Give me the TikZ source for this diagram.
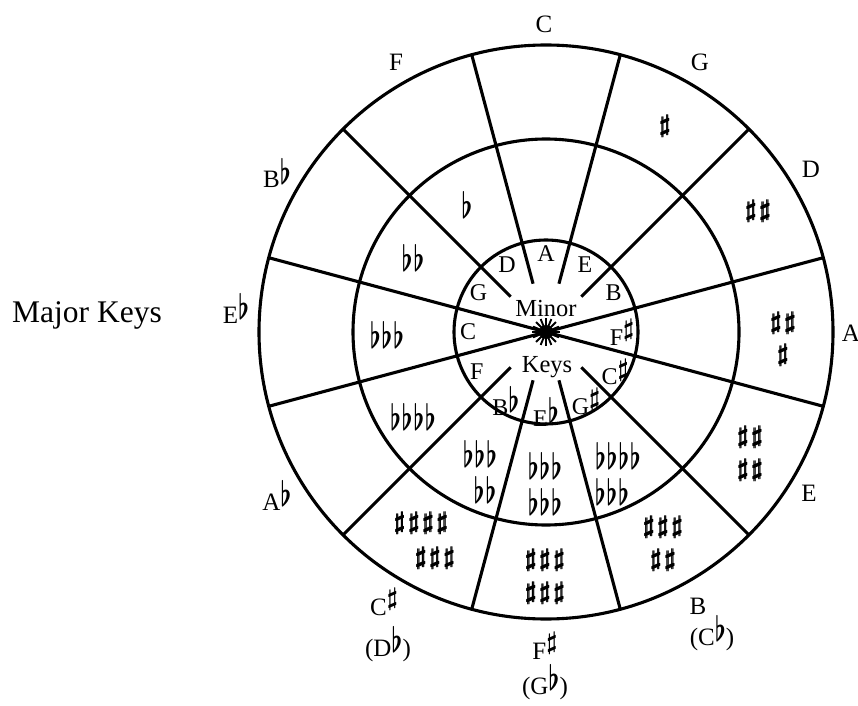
\documentclass[tikz,border=0pt]{standalone}
\usepackage{fontspec}
\usepackage{graphicx}
\setmainfont{Liberation Serif}
\usetikzlibrary{calc}

% heavy sharp: the bold glyph set twice, a hair apart
\newcommand\heavysharp{\rlap{\boldmath$\sharp$}\kern1.1pt{\boldmath$\sharp$}}
% accidentals stacked in the rings
\newcommand\Sh{\heavysharp\hspace{2pt}}
\newcommand\Fl{\scalebox{1}[1.45]{\boldmath$\flat$}\hspace{0.5pt}}
% raised accidentals after a key name
\newcommand\sh{\raisebox{0.8ex}{\boldmath$\sharp$}}
\newcommand\fl{\raisebox{0.3ex}{\scalebox{1}[1.4]{\boldmath$\flat$}}}

\begin{document}
\begin{tikzpicture}[x=1pt,y=1pt,
  ring/.style={line width=3.1pt},
  spoke/.style={line width=3.1pt},
  majorlbl/.style={font=\fontsize{25}{30}\selectfont, inner sep=0pt, anchor=base},
  minorlbl/.style={font=\fontsize{24}{28}\selectfont, inner sep=0pt},
  centrelbl/.style={font=\fontsize{24.5}{28}\selectfont, inner sep=0pt, anchor=base},
  acc/.style={font=\fontsize{25}{30}\selectfont, inner sep=0pt},
]
\useasboundingbox (0,0) rectangle (858,705);
\coordinate (O) at (546,373);

% three rings
\draw[ring] (O) circle[radius=287];
\draw[ring] (O) circle[radius=193];
\draw[ring] (O) circle[radius=92];

% two diameters through the centre
\draw[spoke] ($(O)+(15:287)$) -- ($(O)+(195:287)$);
\draw[spoke] ($(O)+(-15:287)$) -- ($(O)+(165:287)$);
% the other sector borders stop short of the centre
\foreach \a in {75,45,-45,-75,-105,-135,135,105}
  \draw[spoke] ($(O)+(\a:50)$) -- ($(O)+(\a:287)$);

% starburst at the centre
\fill (O) circle[radius=7];
\foreach \a in {0,22.5,...,337.5}
  \draw[line width=1.9pt] (O) -- ++(\a:14);

% Minor Keys in the centre
\node[centrelbl] (minorword) at ($(O)+(0,16)$) {Minor};
\node[centrelbl] (keysword) at ($(O)+(1,-40)$) {Keys};

% major key names round the outside
\node[majorlbl] (kC)   at (544,672) {C};
\node[majorlbl] (kG)   at (700,634) {G};
\node[majorlbl] (kD)   at (811,527) {D};
\node[majorlbl] (kA)   at (851,364) {A};
\node[majorlbl] (kE)   at (809,204) {E};
\node[majorlbl] (kB)   at (698,91)  {B};
\node[majorlbl] (kCb)  at (712,60)  {(C\fl)};
\node[majorlbl] (kFs)  at (545,46)  {F\sh};
\node[majorlbl] (kGb)  at (545,11)  {(G\fl)};
\node[majorlbl] (kCs)  at (384,90)  {C\sh};
\node[majorlbl] (kDb)  at (388,49)  {(D\fl)};
\node[majorlbl] (kAb)  at (277,195) {A\fl};
\node[majorlbl] (kEb)  at (236,382) {E\fl};
\node[majorlbl] (kBb)  at (277,517) {B\fl};
\node[majorlbl] (kF)   at (396,634) {F};

\node[font=\fontsize{31.5}{36}\selectfont, inner sep=0pt, anchor=base west] (title) at (12,383) {Major Keys};

% relative minor keys in the inner ring
\node[minorlbl] (mA)  at ($(O)+(90:78)$) {A};
\node[minorlbl] (mE)  at ($(O)+(60:78)$) {E};
\node[minorlbl] (mB)  at ($(O)+(30:78)$) {B};
\node[minorlbl] (mFs) at ($(O)+(0:76)$) {F\sh};
\node[minorlbl] (mCs) at ($(O)+(-30:80)$) {C\sh};
\node[minorlbl] (mGs) at ($(O)+(-60:80)$) {G\sh};
\node[minorlbl] (mEb) at ($(O)+(-90:80)$) {E\fl};
\node[minorlbl] (mBb) at ($(O)+(-120:80)$) {B\fl};
\node[minorlbl] (mF)  at ($(O)+(-150:80)$) {F};
\node[minorlbl] (mC)  at ($(O)+(180:78)$) {C};
\node[minorlbl] (mG)  at ($(O)+(150:78)$) {G};
\node[minorlbl] (mD)  at ($(O)+(120:78)$) {D};

% sharps in the outer ring
\node[acc] (sG)   at (665,579) {\Sh};
\node[acc] (sD)   at (758,494) {\Sh\Sh};
\node[acc] (sA1)  at (783,382) {\Sh\Sh};
\node[acc] (sA2)  at (783,350) {\Sh};
\node[acc] (sE1)  at (750,268) {\Sh\Sh};
\node[acc] (sE2)  at (750,235) {\Sh\Sh};
\node[acc] (sB1)  at (663,178) {\Sh\Sh\Sh};
\node[acc] (sB2)  at (663,145) {\Sh\Sh};
\node[acc] (sFs1) at (545,145) {\Sh\Sh\Sh};
\node[acc] (sFs2) at (545,112) {\Sh\Sh\Sh};
\node[acc] (sCs1) at (421,182) {\Sh\Sh\Sh\Sh};
\node[acc] (sCs2) at (435,147) {\Sh\Sh\Sh};

% flats in the middle ring
\node[acc] (fF)   at (467,500) {\Fl};
\node[acc] (fBb)  at (413,447) {\Fl\Fl};
\node[acc] (fEb)  at (387,370) {\Fl\Fl\Fl};
\node[acc] (fAb)  at (413,288) {\Fl\Fl\Fl\Fl};
\node[acc] (fCs1) at (480,251) {\Fl\Fl\Fl};
\node[acc] (fCs2) at (485,215) {\Fl\Fl};
\node[acc] (fFs1) at (545,239) {\Fl\Fl\Fl};
\node[acc] (fFs2) at (545,203) {\Fl\Fl\Fl};
\node[acc] (fB1)  at (618,249) {\Fl\Fl\Fl\Fl};
\node[acc] (fB2)  at (612,213) {\Fl\Fl\Fl};
\end{tikzpicture}
\end{document}
